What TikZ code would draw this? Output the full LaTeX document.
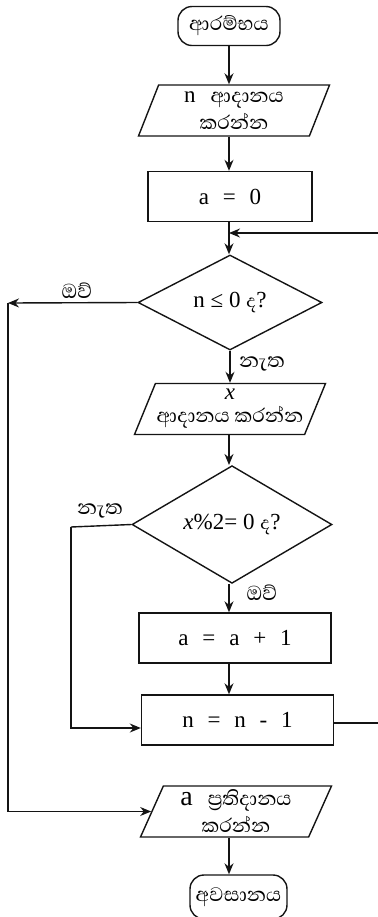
\documentclass[tikz,border=0pt]{standalone}
\usepackage{fontspec}
\setmainfont{Liberation Serif}
\newfontfamily\sifont[Script=Sinhala]{Abhaya Libre}
\usetikzlibrary{shapes.geometric, arrows.meta, positioning}
\definecolor{inkblack}{RGB}{20,20,20}
\tikzset{
  term/.style={rectangle, draw=inkblack, rounded corners=7pt,
    minimum width=51pt, minimum height=19.5pt, inner sep=1pt,
    font=\sifont\fontsize{12.5}{14}\selectfont, line width=0.7pt},
  iobox/.style={trapezium, trapezium left angle=62, trapezium right angle=118,
    trapezium stretches body, draw=inkblack, minimum width=95.5pt,
    minimum height=25.5pt, inner xsep=0pt, inner ysep=0pt, align=center,
    font=\sifont\fontsize{12.5}{12.5}\selectfont, line width=0.7pt},
  procbox/.style={rectangle, draw=inkblack, minimum width=96pt,
    minimum height=25pt, font=\fontsize{11.5}{13}\selectfont, line width=0.7pt},
  cond/.style={diamond, draw=inkblack, minimum width=92pt, minimum height=47.5pt,
    inner sep=0pt, font=\fontsize{11.5}{13}\selectfont, line width=0.7pt},
  lbl/.style={font=\sifont\fontsize{13}{14}\selectfont, inner sep=0pt},
  arrow/.style={-{Stealth[length=5.5pt, width=4.5pt]}, line width=0.7pt, color=inkblack},
  line/.style={line width=0.7pt, color=inkblack}
}
\newcommand{\gap}{\hspace{0.6em}}

\begin{document}
\begin{tikzpicture}[x=0.5pt, y=-0.5pt]
  \useasboundingbox (0,0) rectangle (377,917);

  % Main column
  \coordinate (ax) at (229,0);
  \node[term] (start) at (229,26) {ආරම්භය};
  \node[iobox] (inn) at (234,110.5) {{\rmfamily\fontsize{11.5}{13}\selectfont n}\gap ආදානය\\[1pt]කරන්න};
  \node[procbox, minimum width=82pt] (init) at (230,196.5) {a\gap=\gap0};
  \node[cond] (chkn) at (230,302.5) {n ≤ 0 {\sifont ද}?};
  \node[iobox] (inx) at (230,409) {{\rmfamily\itshape\fontsize{11.5}{11.5}\selectfont x}\\[-1pt]ආදානය කරන්න};
  \node[cond, minimum width=100pt, minimum height=52.5pt] (chkx) at (232,524.5) {\textit{x}\%2=\ 0 {\sifont ද}?};
  \node[procbox] (inca) at (235,638) {a\gap=\gap a\gap+\gap1};
  \node[procbox] (decn) at (237.5,720) {n\gap=\gap n\gap-\gap1};
  \node[iobox] (outa) at (236,811.5) {{\rmfamily\fontsize{14}{14}\selectfont a}\gap ප්^^^^200dරතිදානය\\[1pt]කරන්න};
  \node[term, minimum width=48.5pt, minimum height=22pt] (stop) at (238.5,897) {අවසානය};

  % Branch labels
  \node[lbl] (yes1) at (77,291) {ඔව්};
  \node[lbl] (no1) at (262,364) {නැත};
  \node[lbl] (no2) at (100,511) {නැත};
  \node[lbl] (yes2) at (262,593) {ඔව්};

  % Bend points
  \coordinate (ycorner) at (8,303);
  \coordinate (ncorner) at (71,527);
  \coordinate (loopr) at (382,233);
  \coordinate (loopin) at (229,233);

  % Straight flow
  \draw[arrow] (start.south -| ax) -- (inn.north -| ax);
  \draw[arrow] (inn.south -| ax) -- (init.north -| ax);
  \draw[arrow] (init.south -| ax) -- (chkn.north -| ax);
  \draw[arrow] (chkn.south) -- (chkn.south |- inx.north);
  \draw[arrow] (inx.south -| ax) -- (chkx.north -| ax);
  \draw[arrow] (chkx.south -| ax) -- (inca.north -| ax);
  \draw[arrow] (inca.south -| ax) -- (decn.north -| ax);
  \draw[arrow] (outa.south -| ax) -- (stop.north -| ax);

  % Loop back
  \draw[line] ([yshift=-1.5pt]decn.east) -| (loopr);
  \draw[arrow] (loopr) -- (loopin);

  % Exit when n <= 0
  \draw[arrow] (chkn.west) -- (ycorner);
  \draw[arrow] (ycorner) |- (outa.west);

  % Odd x skips the count
  \draw[line] (chkx.west) -- (ncorner);
  \draw[arrow] (ncorner) |- ([yshift=-4pt]decn.west);
\end{tikzpicture}
\end{document}
